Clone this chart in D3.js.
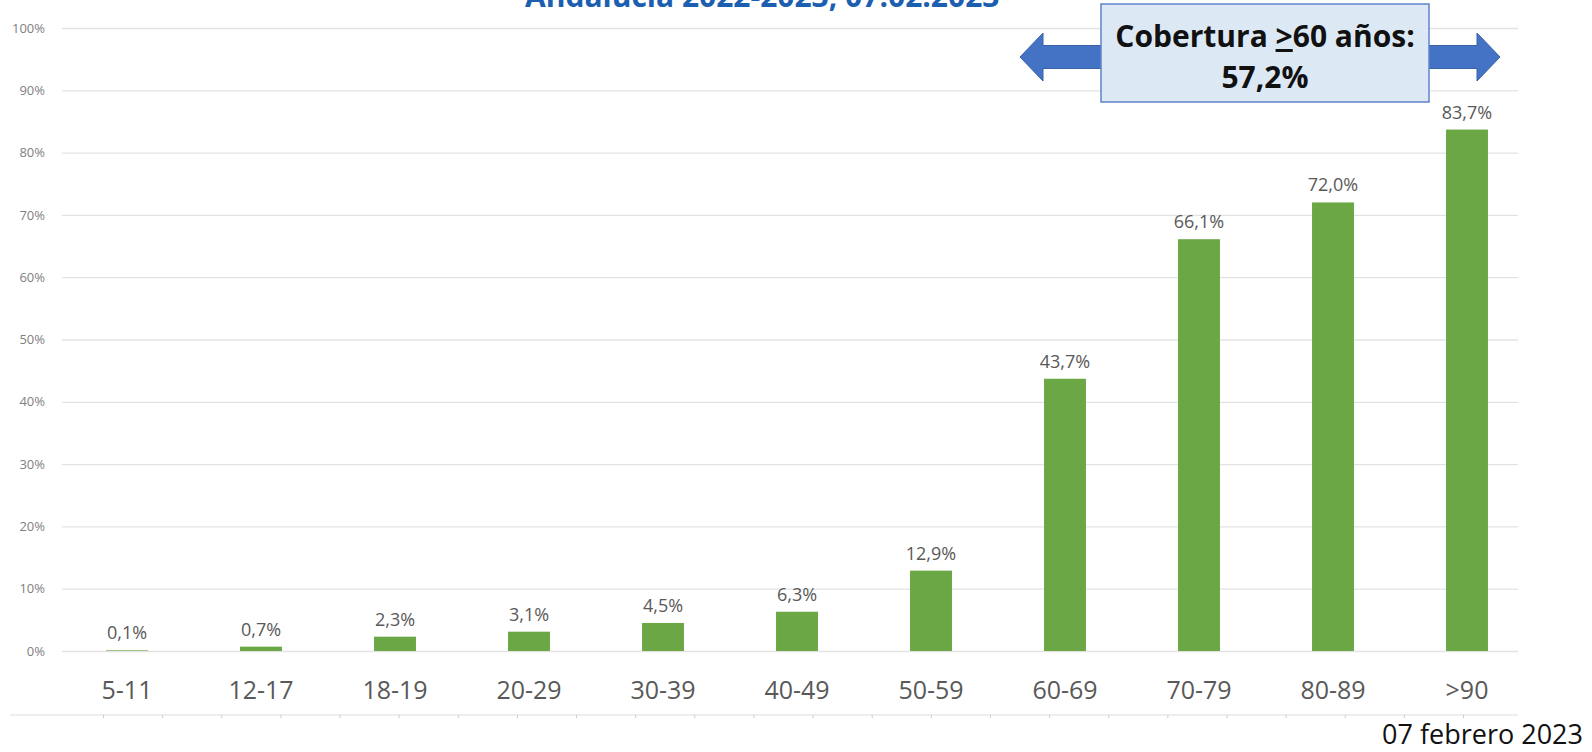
<!DOCTYPE html>
<html>
<head>
<meta charset="utf-8">
<script src="https://cdnjs.cloudflare.com/ajax/libs/d3/7.8.5/d3.min.js"></script>
<style>
  body { margin: 0; background: #fff; }
  svg { display: block; }
  text { font-family: "Open Sans", "DejaVu Sans", sans-serif; }
</style>
</head>
<body>
<svg id="chart" width="1592" height="752"></svg>
<script>
// data
var categories = ["5-11", "12-17", "18-19", "20-29", "30-39", "40-49", "50-59", "60-69", "70-79", "80-89", ">90"];
var values = [0.1, 0.7, 2.3, 3.1, 4.5, 6.3, 12.9, 43.7, 66.1, 72.0, 83.7];
var yTicks = [0, 10, 20, 30, 40, 50, 60, 70, 80, 90, 100];
var titleText = "Andalucía 2022-2023, 07.02.2023";
var calloutLine1 = ["Cobertura ", ">", "60 años:"];
var calloutLine2 = "57,2%";
var dateText = "07 febrero 2023";

var svg = d3.select("#chart");

var x = d3.scaleBand()
  .domain(categories)
  .range([60, 1534])
  .paddingInner(0.687)
  .paddingOuter(0.687 / 2);

var y = d3.scaleLinear().domain([0, 100]).range([651, 28]);

var fmt = function(v) { return d3.format(".1f")(v).replace(".", ",") + "%"; };

// title, mostly cut off by the top edge like in the slide
svg.append("text")
  .attr("x", 525).attr("y", 7)
  .attr("font-size", 30).attr("font-weight", "bold")
  .attr("fill", "#1c5fb0")
  .text(titleText);

// y grid + labels
var gy = svg.append("g")
  .attr("transform", "translate(62,0)")
  .call(d3.axisLeft(y).tickValues(yTicks).tickSize(-(1518 - 62)).tickPadding(17)
    .tickFormat(function(d) { return d + "%"; }));
gy.select(".domain").remove();
gy.selectAll(".tick line").attr("stroke", "#e3e3e3").attr("stroke-width", 1.3);
gy.selectAll(".tick text").attr("font-size", 13).attr("fill", "#7f7f7f")
  .attr("font-family", "'Open Sans', sans-serif");

// bars
svg.append("g").selectAll("rect")
  .data(values)
  .enter().append("rect")
  .attr("x", function(d, i) { return x(categories[i]); })
  .attr("width", x.bandwidth())
  .attr("y", function(d) { return y(d); })
  .attr("height", function(d) { return y(0) - y(d); })
  .attr("fill", "#6ca745");

// value labels
svg.append("g").selectAll("text")
  .data(values)
  .enter().append("text")
  .attr("x", function(d, i) { return x(categories[i]) + x.bandwidth() / 2; })
  .attr("y", function(d) { return y(d) - 11; })
  .attr("text-anchor", "middle")
  .attr("font-size", 18)
  .attr("fill", "#595959")
  .text(fmt);

// category axis
var gx = svg.append("g")
  .attr("transform", "translate(0," + y(0) + ")")
  .call(d3.axisBottom(x).tickSize(0).tickPadding(30));
gx.select(".domain").remove();
gx.selectAll(".tick text").attr("font-size", 25).attr("fill", "#595959")
  .attr("font-family", "'Open Sans', sans-serif");

// faint ruler line under the labels
svg.append("line")
  .attr("x1", 10).attr("x2", 1518).attr("y1", 715).attr("y2", 715)
  .attr("stroke", "#dddddd").attr("stroke-width", 1);
var ruler = d3.scaleLinear().domain([0, 23]).range([103, 1463]);
var gr = svg.append("g")
  .attr("transform", "translate(0,715)")
  .call(d3.axisBottom(ruler).tickValues(d3.range(24)).tickSize(3).tickFormat(""));
gr.select(".domain").remove();
gr.selectAll(".tick line").attr("stroke", "#cccccc");

// double arrow behind the callout
var ax0 = 1020, ax1 = 1500, ay = 57, head = 23, hh = 24, sh = 11.5;
var arrowPts = [
  [ax0, ay], [ax0 + head, ay - hh], [ax0 + head, ay - sh], [ax1 - head, ay - sh],
  [ax1 - head, ay - hh], [ax1, ay], [ax1 - head, ay + hh], [ax1 - head, ay + sh],
  [ax0 + head, ay + sh], [ax0 + head, ay + hh]
];
svg.append("path")
  .attr("d", d3.line()(arrowPts) + "Z")
  .attr("fill", "#4472c4")
  .attr("stroke", "#3a62a8")
  .attr("stroke-width", 1);

// callout box
var bx0 = 1101, bx1 = 1429, by0 = 4, by1 = 102;
svg.append("rect")
  .attr("x", bx0).attr("y", by0)
  .attr("width", bx1 - bx0).attr("height", by1 - by0)
  .attr("fill", "#dde8f5")
  .attr("stroke", "#5f83c9")
  .attr("stroke-width", 1.5);

var cx = (bx0 + bx1) / 2;
var t1 = svg.append("text")
  .attr("x", cx).attr("y", 47)
  .attr("text-anchor", "middle")
  .attr("font-size", 30).attr("font-weight", "bold")
  .attr("fill", "#111");
t1.append("tspan").text(calloutLine1[0]);
t1.append("tspan").style("text-decoration", "underline").text(calloutLine1[1]);
t1.append("tspan").text(calloutLine1[2]);

svg.append("text")
  .attr("x", cx).attr("y", 88)
  .attr("text-anchor", "middle")
  .attr("font-size", 30).attr("font-weight", "bold")
  .attr("fill", "#111")
  .text(calloutLine2);

// date
svg.append("text")
  .attr("x", 1583).attr("y", 744)
  .attr("text-anchor", "end")
  .attr("font-size", 27)
  .attr("fill", "#111")
  .text(dateText);
</script>
</body>
</html>
